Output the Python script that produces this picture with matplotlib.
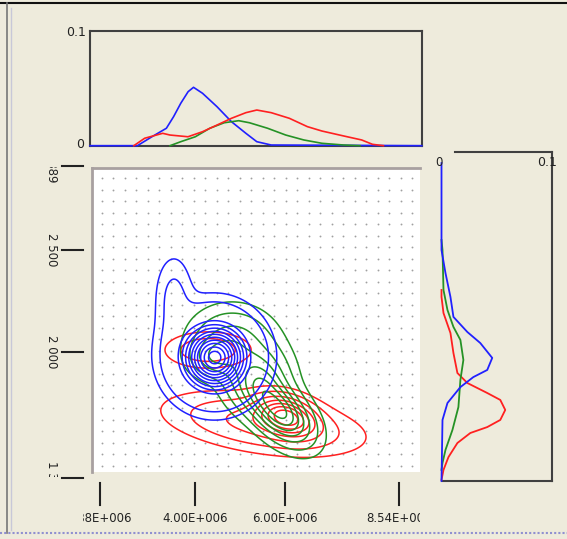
import numpy as np
import matplotlib
matplotlib.use("Agg")
import matplotlib.pyplot as plt
from matplotlib.lines import Line2D
from matplotlib.transforms import Bbox, blended_transform_factory

W, H = 567, 539

# ---------------- data (x in millions, y in native units) ----------------
x_ticks = [1.88, 4.00, 6.00, 8.54]
x_tick_labels = ["1.88E+006", "4.00E+006", "6.00E+006", "8.54E+006"]
y_ticks = [2912, 2500, 2000, 1382]
y_tick_labels = ["2 889", "2 500", "2 000", "1 382"]

# top marginal densities
top_blue_x = [1.667, 2.72, 3.042, 3.364, 3.524, 3.684, 3.847, 3.967, 4.167, 4.489, 4.811, 5.131, 5.373, 5.693, 9.04]
top_blue_y = [0, 0, 0.0078, 0.0152, 0.0253, 0.0370, 0.0471, 0.0509, 0.0457, 0.0340, 0.0209, 0.0108, 0.0035, 0.0006, 0]
top_red_x = [2.64, 2.882, 3.282, 3.444, 3.844, 4.167, 4.489, 4.811, 5.131, 5.373, 5.693, 6.096, 6.498, 6.82, 7.302, 7.704, 7.944, 8.187]
top_red_y = [0, 0.0065, 0.0108, 0.0093, 0.0078, 0.0122, 0.018, 0.0239, 0.0288, 0.0311, 0.0288, 0.0239, 0.0166, 0.0128, 0.0085, 0.005, 0.0012, 0]
top_green_x = [3.444, 3.684, 4.007, 4.329, 4.649, 4.971, 5.211, 5.613, 6.016, 6.418, 6.82, 7.302, 7.667]
top_green_y = [0, 0.0035, 0.0078, 0.0152, 0.0200, 0.0218, 0.0200, 0.0152, 0.0093, 0.005, 0.0021, 0.0006, 0]

# right marginal densities
right_blue_y = [2926, 2500, 2387, 2270, 2172, 2098, 2044, 1971, 1912, 1877, 1828, 1750, 1667, 1368]
right_blue_d = [0, 0, 0.0036, 0.0081, 0.0108, 0.0234, 0.0351, 0.0459, 0.0414, 0.0288, 0.0171, 0.0054, 0.0009, 0]
right_green_y = [2549, 2500, 2304, 2206, 2123, 2059, 1961, 1863, 1730, 1618, 1520, 1456, 1422]
right_green_d = [0, 0.0009, 0.0018, 0.0054, 0.0108, 0.0171, 0.0198, 0.0171, 0.0153, 0.0099, 0.0036, 0.0009, 0]
right_red_y = [2304, 2270, 2191, 2093, 1995, 1897, 1848, 1799, 1765, 1716, 1667, 1632, 1603, 1554, 1485, 1422, 1373]
right_red_d = [0, 0, 0.0018, 0.0081, 0.0108, 0.0144, 0.0234, 0.0414, 0.0532, 0.0577, 0.0532, 0.0414, 0.0261, 0.0144, 0.0063, 0.0018, 0]

# density components: (mx, my, sx, sy, rho, weight)
blue_components = [(4.44, 1971, 0.46, 102, 0.0, 1.0),
                   (3.53, 2265, 0.25, 125, 0.0, 0.08),
                   (4.42, 1985, 0.58, 132, 0.0, 0.25)]
green_components = [(4.82, 2059, 0.56, 98, 0.0, 0.4),
                    (5.89, 1706, 0.44, 98, -0.5, 1.0),
                    (5.40, 1873, 0.44, 98, 0.0, 0.55),
                    (4.40, 1971, 0.33, 59, 0.0, 0.3)]
red_components = [(6.04, 1686, 0.40, 59, -0.3, 1.0),
                  (5.52, 1648, 1.15, 82, -0.4, 0.42),
                  (4.29, 2010, 0.53, 49, 0.0, 0.3)]
blue_levels = [0.02, 0.05, 0.25, 0.33, 0.41, 0.49, 0.57, 0.65, 0.73, 0.81, 0.89, 0.96]
green_levels = [0.06, 0.15, 0.3, 0.45, 0.6, 0.75, 0.9]
red_levels = [0.045, 0.12, 0.25, 0.4, 0.55, 0.7, 0.85]

BLUE, RED, GREEN = "#2020ff", "#ff2020", "#259225"
BG = "#EEEBDC"

# ---------------- helpers ----------------
def fr(px0, py0, px1, py1):
    return [px0 / W, 1 - py1 / H, (px1 - px0) / W, (py1 - py0) / H]

def xpix(px):
    return 4 + (px - 195) / 45.0

def ypix(py):
    return 2000 + (352 - py) * 500 / 102.0

def density(comps, X, Y):
    Z = np.zeros_like(X)
    for mx, my, sx, sy, rho, w in comps:
        u = (X - mx) / sx
        v = (Y - my) / sy
        q = (u * u - 2 * rho * u * v + v * v) / (1 - rho ** 2)
        Z += w * np.exp(-0.5 * q)
    return Z / Z.max()

fig = plt.figure(figsize=(W / 100, H / 100), dpi=100, facecolor=BG)

# frame decoration
fig.add_artist(Line2D([0, 1], [1 - 2.5 / H] * 2, color="#111111", lw=1.5))
fig.add_artist(Line2D([7 / W] * 2, [1 - 3 / H, 1 - 533 / H], color="#777777", lw=1.2))
fig.add_artist(Line2D([11 / W] * 2, [1 - 8 / H, 1 - 530 / H], color="#c8c8d8", lw=1.0))
fig.add_artist(Line2D([0, 1], [1 - 533 / H] * 2, color="#9090d0", lw=1.5, ls=(0, (1, 1))))

# ---------------- main contour plot ----------------
ax = fig.add_axes(fr(92, 168, 420, 472))
ax.set_facecolor("white")
ax.set_xlim(xpix(92), xpix(420))
ax.set_ylim(ypix(472), ypix(168))
for s in ["bottom", "right"]:
    ax.spines[s].set_visible(False)
for s in ["left", "top"]:
    ax.spines[s].set_color("#a8a0a0")
    ax.spines[s].set_linewidth(2)
ax.set_xticks([])
ax.set_yticks([])

# dotted background grid
gx, gy = np.meshgrid(np.arange(0.03, 1.0, 11.5 / 328), np.arange(0.02, 1.0, 11.5 / 304))
ax.scatter(gx.ravel(), gy.ravel(), s=1.8, color="#a0a0a0", transform=ax.transAxes, zorder=0, linewidths=0)

xs = np.linspace(xpix(92), xpix(420), 300)
ys = np.linspace(ypix(472), ypix(168), 300)
X, Y = np.meshgrid(xs, ys)
ax.contour(X, Y, density(red_components, X, Y), levels=red_levels, colors=RED, linewidths=1.1, zorder=2)
ax.contour(X, Y, density(green_components, X, Y), levels=green_levels, colors=GREEN, linewidths=1.1, zorder=3)
ax.contour(X, Y, density(blue_components, X, Y), levels=blue_levels, colors=BLUE, linewidths=1.1, zorder=4)

# x ticks (detached below the plot)
tx = blended_transform_factory(ax.transData, ax.transAxes)
for v, lab in zip(x_ticks, x_tick_labels):
    ax.add_line(Line2D([v, v], [(472 - 483) / 304, (472 - 505) / 304], transform=tx,
                       color="#222222", lw=1.5, clip_on=False))
    t = ax.text(v, (472 - 518) / 304, lab, transform=tx, ha="center", va="center",
                fontsize=8.5, color="#222222", clip_on=True)
    t.set_clip_box(Bbox([[83, 0], [420, H]]))

# y ticks
ty = blended_transform_factory(ax.transAxes, ax.transData)
for v, lab in zip(y_ticks, y_tick_labels):
    ax.add_line(Line2D([(62 - 92) / 328, (83 - 92) / 328], [v, v], transform=ty,
                       color="#222222", lw=1.5, clip_on=False))
    t = ax.text((52 - 92) / 328, v, lab, transform=ty, ha="center", va="center",
                rotation=270, fontsize=8.5, color="#222222", clip_on=True)
    t.set_clip_box(Bbox([[0, H - 477], [W, H - 167]]))

# ---------------- top marginal ----------------
axt = fig.add_axes(fr(90, 31, 422, 145.7))
axt.set_facecolor(BG)
axt.set_xlim(xpix(90), xpix(422))
axt.set_ylim(0, 0.1)
for s in axt.spines.values():
    s.set_color("#404040")
    s.set_linewidth(1.5)
axt.set_xticks([])
axt.set_yticks([])
axt.plot(top_blue_x, top_blue_y, color=BLUE, lw=1.2, zorder=3, clip_on=False)
axt.plot(top_green_x, top_green_y, color=GREEN, lw=1.2, zorder=4, clip_on=False)
axt.plot(top_red_x, top_red_y, color=RED, lw=1.2, zorder=5, clip_on=False)
fig.text(86 / W, 1 - 32 / H, "0.1", ha="right", va="center", fontsize=9, color="#222222")
fig.text(84 / W, 1 - 145 / H, "0", ha="right", va="center", fontsize=9, color="#222222")

# ---------------- right marginal ----------------
axr = fig.add_axes(fr(441.5, 152, 552, 481))
axr.set_facecolor(BG)
axr.set_xlim(0, 0.1)
axr.set_ylim(ypix(481), ypix(152))
for s in ["top", "left"]:
    axr.spines[s].set_visible(False)
for s in ["right", "bottom"]:
    axr.spines[s].set_color("#404040")
    axr.spines[s].set_linewidth(1.5)
axr.set_xticks([])
axr.set_yticks([])
fig.add_artist(Line2D([455 / W, 552 / W], [1 - 152 / H] * 2, color="#404040", lw=1.5))
axr.plot(right_red_d, right_red_y, color=RED, lw=1.3, zorder=3, clip_on=False, snap=False)
axr.plot(right_green_d, right_green_y, color=GREEN, lw=1.3, zorder=4, clip_on=False, snap=False)
axr.plot(right_blue_d, right_blue_y, color=BLUE, lw=1.3, zorder=5, clip_on=False, snap=False)
fig.text(439 / W, 1 - 162 / H, "0", ha="center", va="center", fontsize=8.5, color="#222222")
fig.text(547 / W, 1 - 162 / H, "0.1", ha="center", va="center", fontsize=9, color="#222222")

fig.savefig("out.png", dpi=100, facecolor=BG)
